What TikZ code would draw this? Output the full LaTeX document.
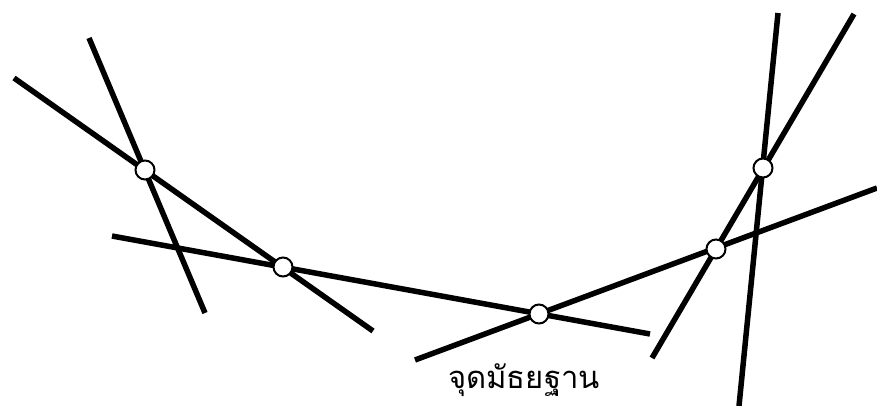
\documentclass[tikz,border=0pt]{standalone}
\usepackage{fontspec}
\newfontfamily\thaifont[Script=Thai]{Loma}
\begin{document}
\begin{tikzpicture}[x=1pt, y=-1pt,
  seg/.style={line width=5.5pt},
  pt/.style={circle, draw, fill=white, line width=2pt, minimum size=19pt, inner sep=0pt}]
\useasboundingbox (0,0) rectangle (877,406);

\coordinate (a1) at (89,38);   \coordinate (a2) at (205,313);
\coordinate (b1) at (14,78);   \coordinate (b2) at (373,331);
\coordinate (c1) at (112,236); \coordinate (c2) at (650,334);
\coordinate (d1) at (415,360); \coordinate (d2) at (877,188);
\coordinate (f1) at (652,358); \coordinate (f2) at (854,14);
\coordinate (e1) at (778,13);  \coordinate (e2) at (739,406);

\draw[seg] (a1) -- (a2);
\draw[seg] (b1) -- (b2);
\draw[seg] (c1) -- (c2);
\draw[seg] (d1) -- (d2);
\draw[seg] (f1) -- (f2);
\draw[seg] (e1) -- (e2);

\node[pt] (m1) at (145,170) {};
\node[pt] (m2) at (283,267) {};
\node[pt] (m3) at (539,314) {};
\node[pt] (m5) at (716,249) {};
\node[pt] (m4) at (763,168) {};

\node[font=\thaifont\fontsize{31}{36}\selectfont] (lbl) at (524,380) {จุดมัธยฐาน};
\end{tikzpicture}
\end{document}
